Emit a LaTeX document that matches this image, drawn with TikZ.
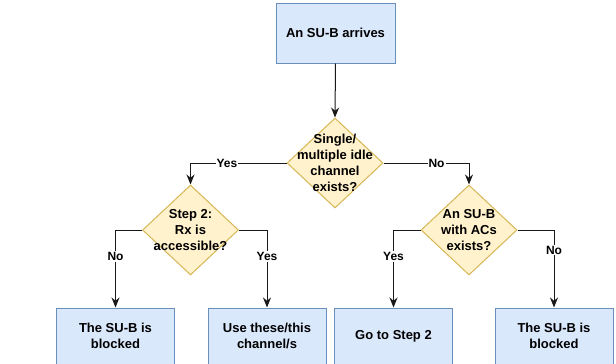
\documentclass[tikz,border=0pt]{standalone}
\usepackage{fontspec}
\setmainfont{Liberation Sans}
\usetikzlibrary{shapes.geometric,arrows.meta}
\definecolor{boxfill}{HTML}{DAE8FC}
\definecolor{boxline}{HTML}{6C8EBF}
\definecolor{decfill}{HTML}{FFF2CC}
\definecolor{decline}{HTML}{D6B656}
\tikzset{
  procbox/.style={draw=boxline, fill=boxfill, line width=1pt, minimum width=118pt, minimum height=56pt, align=center, font=\bfseries\fontsize{13}{16.5}\selectfont, inner sep=0pt},
  decbox/.style={draw=decline, fill=decfill, line width=1pt, diamond, minimum width=96pt, minimum height=90pt, inner sep=0pt},
  dectext/.style={align=center, font=\bfseries\fontsize{13}{16}\selectfont, inner sep=0pt},
  conn/.style={line width=1pt, draw=black!90, -{Stealth[length=10pt,width=8pt]}},
  lbl/.style={fill=white, font=\bfseries\fontsize{12}{14}\selectfont, inner sep=1pt}
}
\begin{document}
\begin{tikzpicture}[x=1pt,y=-1pt]
\useasboundingbox (0,0) rectangle (616,364);
\node[procbox, minimum width=119pt, minimum height=60pt] (start) at (335.5,33) {An SU-B arrives};
\node[decbox] (d1) at (335,163) {};
\node[dectext] (t1) at (d1) {Single/\\multiple idle\\channel\\exists?};
\node[decbox] (d2) at (190.5,230) {};
\node[dectext] (t2) at (d2) {Step 2:\\Rx is\\accessible?};
\node[decbox] (d3) at (469,230) {};
\node[dectext] (t3) at (d3) {An SU-B\\with ACs\\exists?};
\node[procbox] (b1) at (115.5,336) {The SU-B is\\blocked};
\node[procbox] (b2) at (267,336) {Use these/this\\channel/s};
\node[procbox] (b3) at (393.5,336) {Go to Step 2};
\node[procbox] (b4) at (554,336) {The SU-B is\\blocked};
\draw[conn] (start.south) -- (d1.north);
\draw[conn] (d1.west) -| node[lbl, pos=0.31] {Yes} (d2.north);
\draw[conn] (d1.east) -| node[lbl, pos=0.31] {No} (d3.north);
\draw[conn] (d2.west) -| node[lbl, pos=0.67] {No} (b1.north);
\draw[conn] (d2.east) -| node[lbl, pos=0.67] {Yes} (b2.north);
\draw[conn] (d3.west) -| node[lbl, pos=0.67] {Yes} (b3.north);
\draw[conn] (d3.east) -| node[lbl, pos=0.63] {No} (b4.north);
\end{tikzpicture}
\end{document}
